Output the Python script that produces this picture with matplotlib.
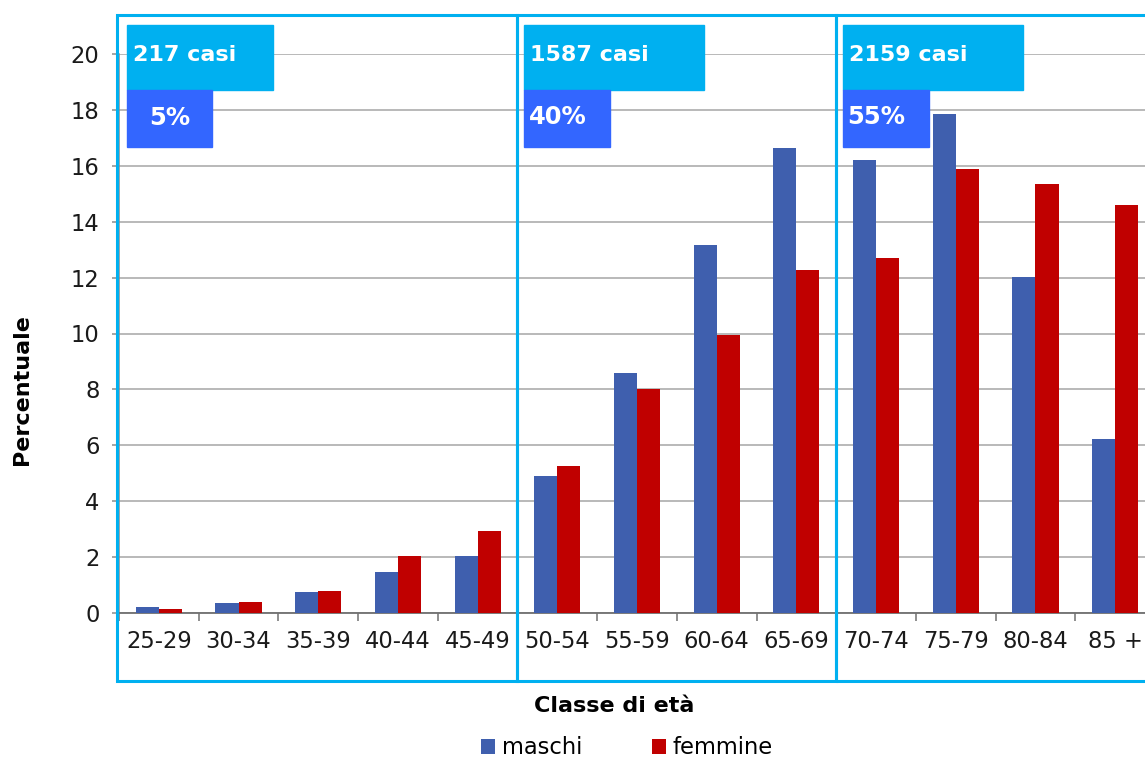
import numpy as np
import matplotlib.pyplot as plt
from matplotlib.patches import Rectangle

# dati
classi = ['25-29', '30-34', '35-39', '40-44', '45-49', '50-54', '55-59',
          '60-64', '65-69', '70-74', '75-79', '80-84', '85 +']
maschi = [0.2, 0.35, 0.75, 1.45, 2.05, 4.9, 8.6, 13.15, 16.63, 16.2, 17.85, 12.02, 6.22]
femmine = [0.15, 0.4, 0.8, 2.05, 2.95, 5.27, 8.0, 9.93, 12.27, 12.7, 15.88, 15.35, 14.6]
gruppi_inizio = [0, 5, 9]
gruppi_casi = [217, 1587, 2159]
gruppi_perc = [5, 40, 55]

BLU = '#3F5FAE'
ROSSO = '#C00000'
CIANO = '#00B0F0'
BLU_BOX = '#3366FF'
FS = 16.3

plt.rcParams['font.family'] = 'DejaVu Sans'
fig = plt.figure(figsize=(11.45, 7.61), dpi=100)
ax = fig.add_axes([119 / 1145, 148 / 761, 1036 / 1145, 559 / 761])

x = np.arange(len(classi))
w = 0.29
ax.bar(x - w / 2, maschi, w, color=BLU, label='maschi', zorder=3)
ax.bar(x + w / 2, femmine, w, color=ROSSO, label='femmine', zorder=3)

ax.set_xlim(-0.5, len(classi) - 0.5)
ax.set_ylim(0, 20)
ax.set_yticks(np.arange(0, 21, 2))
ax.yaxis.grid(True, color='#A6A6A6', lw=1.1, zorder=0)
for s in ['top', 'right']:
    ax.spines[s].set_visible(False)
ax.spines['left'].set_color('#8C8C8C')
ax.spines['bottom'].set_color('#707070')
ax.spines['left'].set_linewidth(1.1)
ax.spines['bottom'].set_linewidth(1.3)

ax.set_xticks(x)
ax.set_xticklabels(classi, fontsize=FS, color='#1a1a1a')
ax.set_xticks(np.arange(-0.5, len(classi), 1), minor=True)
ax.tick_params(axis='x', which='major', length=0, pad=12)
ax.tick_params(axis='x', which='minor', length=6, color='#707070', width=1.1)
ax.tick_params(axis='y', length=5, color='#8C8C8C', width=1.1, labelsize=FS,
               labelcolor='#1a1a1a', pad=9)

# riquadri dei gruppi
y_top, y_bot = 21.38, -2.43
confini = gruppi_inizio + [len(classi)]
for i in range(len(gruppi_inizio)):
    x0 = confini[i] - 0.5
    x1 = confini[i + 1] - 0.5
    if i == 0:
        x0 -= 0.025
    if i == len(gruppi_inizio) - 1:
        x1 += 0.3
    ax.add_patch(Rectangle((x0, y_bot), x1 - x0, y_top - y_bot, fill=False,
                           ec=CIANO, lw=2.2, clip_on=False, zorder=5))

# etichette dei gruppi
larg_casi = [1.83, 2.26, 2.26]
larg_perc = [1.07, 1.08, 1.08]
centrato = [True, False, False]
for i, g in enumerate(gruppi_inizio):
    x0 = g - 0.5 + (0.1 if i == 0 else 0.08)
    ax.add_patch(Rectangle((x0, 18.72), larg_casi[i], 2.3, color=CIANO,
                           clip_on=False, zorder=6))
    ax.add_patch(Rectangle((x0, 16.66), larg_perc[i], 2.06, color=BLU_BOX,
                           clip_on=False, zorder=6))
    ax.text(x0 + 0.08, 19.95, f'{gruppi_casi[i]} casi', color='white',
            fontsize=16, fontweight='bold', va='center', ha='left', zorder=7)
    if centrato[i]:
        ax.text(x0 + larg_perc[i] / 2, 17.7, f'{gruppi_perc[i]}%', color='white',
                fontsize=17.5, fontweight='bold', va='center', ha='center', zorder=7)
    else:
        ax.text(x0 + 0.06, 17.75, f'{gruppi_perc[i]}%', color='white',
                fontsize=17.5, fontweight='bold', va='center', ha='left', zorder=7)

fig.text(614 / 1145, 1 - 706 / 761, 'Classe di età', fontsize=16, fontweight='bold',
         ha='center', va='center')
fig.text(22 / 1145, 1 - 390 / 761, 'Percentuale', fontsize=16, fontweight='bold',
         ha='center', va='center', rotation=90)

fig.legend(loc='center', bbox_to_anchor=(627 / 1145, 1 - 748 / 761), ncol=2,
           frameon=False, fontsize=FS, handlelength=0.6, handleheight=0.6,
           handletextpad=0.3, columnspacing=3.1)

fig.savefig('out.png', dpi=100)
